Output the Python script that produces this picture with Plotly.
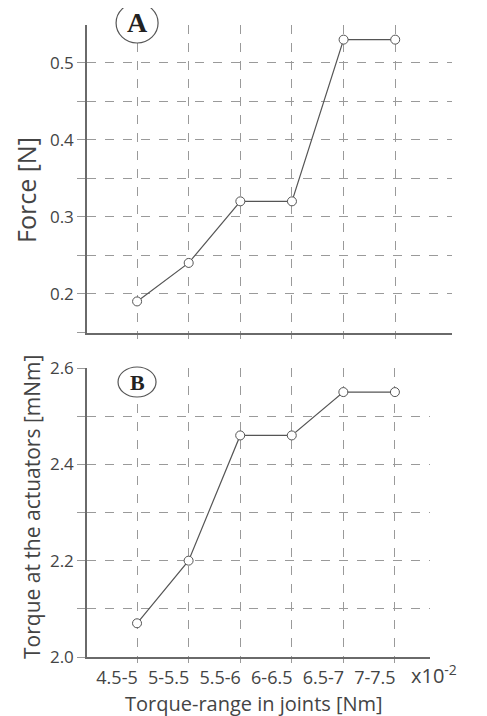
import plotly.graph_objects as go

categories = ["4.5-5", "5-5.5", "5.5-6", "6-6.5", "6.5-7", "7-7.5"]
force_n = [0.19, 0.24, 0.32, 0.32, 0.53, 0.53]
torque_mnm = [2.07, 2.20, 2.46, 2.46, 2.55, 2.55]
force_ticks = [0.2, 0.3, 0.4, 0.5]
torque_ticks = [2.0, 2.2, 2.4, 2.6]

W, H = 487, 716
OFF = 8  # page body margin
xpos = list(range(len(categories)))

FONT = "Open Sans"
TXT = "#444444"
AX = "#6a6a6a"
GRID = "#9a9a9a"

XR_A = [-0.97, 6.1]
XR_B = [-0.97, 5.68]
YR_A = [0.149, 0.549]
YR_B = [2.0, 2.6]

fig = go.Figure()
line_style = dict(color="#555555", width=1.2)
marker_style = dict(symbol="circle", size=9, color="white",
                    line=dict(color="#555555", width=1))

fig.add_trace(go.Scatter(x=xpos, y=force_n, mode="lines+markers",
                         line=line_style, marker=marker_style, cliponaxis=False,
                         xaxis="x", yaxis="y", showlegend=False))
fig.add_trace(go.Scatter(x=xpos, y=torque_mnm, mode="lines+markers",
                         line=line_style, marker=marker_style, cliponaxis=False,
                         xaxis="x2", yaxis="y2", showlegend=False))

def px(x):
    return (x - OFF) / W

def py(y):
    return 1 - (y - OFF) / H

common_x = dict(
    showline=True, linecolor=AX, linewidth=1.5, automargin=False,
    showgrid=True, gridcolor=GRID, griddash="dash", gridwidth=1,
    zeroline=False, tickvals=xpos, ticks="outside", ticklen=4,
    tickcolor=GRID, tickwidth=1,
)
common_y = dict(
    showline=True, linecolor=AX, linewidth=1.5, automargin=False,
    showgrid=True, gridcolor=GRID, griddash="dash", gridwidth=1,
    zeroline=False, ticks="outside", ticklen=8, tickcolor=GRID,
    tickfont=dict(family=FONT, size=17, color=TXT),
)

fig.update_layout(
    template="none",
    width=W, height=H,
    margin=dict(l=0, r=0, t=0, b=0, pad=0, autoexpand=False),
    paper_bgcolor="white", plot_bgcolor="white",
    xaxis=dict(**common_x, domain=[px(87), px(452)], range=XR_A,
               anchor="y", showticklabels=False),
    yaxis=dict(**common_y, domain=[py(333), py(25)], range=YR_A,
               anchor="x", tickvals=force_ticks, ticktext=["0.2", "0.3", "0.4", "0.5"],
               minor=dict(dtick=0.05, tick0=0, showgrid=True, gridcolor=GRID,
                          griddash="dash", gridwidth=1, ticks="outside",
                          ticklen=8, tickcolor=GRID)),
    xaxis2=dict(**common_x, domain=[px(87), px(430)], range=XR_B,
                anchor="y2", ticktext=categories, ticklabelshift=-20,
                tickfont=dict(family=FONT, size=18, color=TXT)),
    yaxis2=dict(**common_y, domain=[py(657), py(368)], range=YR_B,
                anchor="x2", tickvals=torque_ticks,
                ticktext=["2.0", "2.2", "2.4", "2.6"],
                minor=dict(dtick=0.1, tick0=0, showgrid=True, gridcolor=GRID,
                           griddash="dash", gridwidth=1, ticks="outside",
                           ticklen=8, tickcolor=GRID)),
)

def dom_frac(v, r):
    return (v - r[0]) / (r[1] - r[0])

# panel labels (circled letters), anchored on the first category, top of each panel
fig.add_shape(type="circle", xref="x domain", yref="y domain",
              xsizemode="pixel", ysizemode="pixel",
              xanchor=dom_frac(0, XR_A), yanchor=1, x0=-21, x1=21, y0=-18, y1=22,
              line=dict(color="#555555", width=1.2), fillcolor="white", layer="above")
fig.add_shape(type="circle", xref="x2 domain", yref="y2 domain",
              xsizemode="pixel", ysizemode="pixel",
              xanchor=dom_frac(0, XR_B), yanchor=1, x0=-19, x1=19, y0=-29, y1=1,
              line=dict(color="#555555", width=1.2), fillcolor="white", layer="above")
fig.add_annotation(x=0, y=1, xref="x", yref="y domain", text="<b>A</b>", showarrow=False,
                   xanchor="center", yanchor="middle", yshift=2,
                   font=dict(family="Liberation Serif", size=28, color="#222222"))
fig.add_annotation(x=0, y=1, xref="x2", yref="y2 domain", text="<b>B</b>", showarrow=False,
                   xanchor="center", yanchor="middle", yshift=-14,
                   font=dict(family="Liberation Serif", size=22, color="#222222"))

# axis titles
fig.add_annotation(x=px(26), y=py(190), xref="paper", yref="paper", text="Force [N]",
                   textangle=-90, showarrow=False, xanchor="center", yanchor="middle",
                   font=dict(family=FONT, size=25, color=TXT))
fig.add_annotation(x=px(32), y=py(507), xref="paper", yref="paper",
                   text="Torque at the actuators [mNm]", textangle=-90, showarrow=False,
                   xanchor="center", yanchor="middle",
                   font=dict(family=FONT, size=21, color=TXT))
fig.add_annotation(x=px(254), y=py(703), xref="paper", yref="paper",
                   text="Torque-range in joints [Nm]", showarrow=False,
                   xanchor="center", yanchor="middle",
                   font=dict(family=FONT, size=20, color=TXT))
fig.add_annotation(x=px(409), y=py(674), xref="paper", yref="paper", xanchor="left",
                   yanchor="middle", text="x10<sup>-2</sup>", showarrow=False,
                   font=dict(family=FONT, size=20, color=TXT))

fig.write_html("out.html")
